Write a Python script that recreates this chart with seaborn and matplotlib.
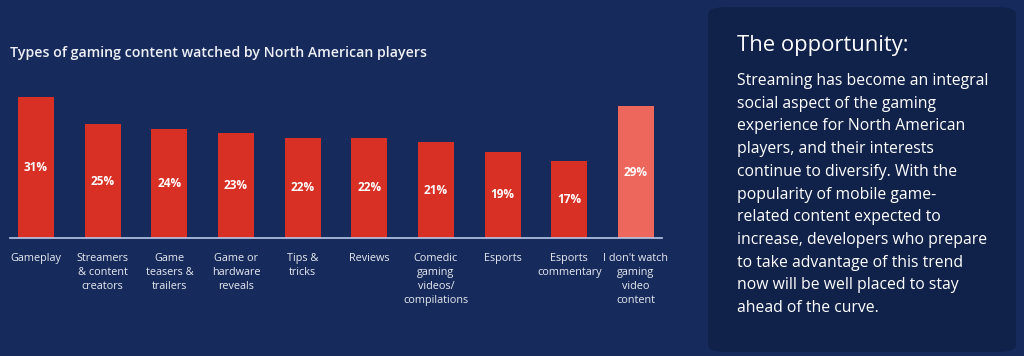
import matplotlib.pyplot as plt
import seaborn as sns
import pandas as pd
from matplotlib.patches import FancyBboxPatch

categories = ["Gameplay", "Streamers\n& content\ncreators", "Game\nteasers &\ntrailers",
              "Game or\nhardware\nreveals", "Tips &\ntricks", "Reviews",
              "Comedic\ngaming\nvideos/\ncompilations", "Esports", "Esports\ncommentary",
              "I don't watch\ngaming\nvideo\ncontent"]
shares = [31, 25, 24, 23, 22, 22, 21, 19, 17, 29]
bar_colors = ["#d93025"] * 9 + ["#ee675c"]

title = "Types of gaming content watched by North American players"
panel_title = "The opportunity:"
panel_text = ("Streaming has become an integral\nsocial aspect of the gaming\n"
              "experience for North American\nplayers, and their interests\n"
              "continue to diversify. With the\npopularity of mobile game-\n"
              "related content expected to\nincrease, developers who prepare\n"
              "to take advantage of this trend\nnow will be well placed to stay\n"
              "ahead of the curve.")

bg = "#162a5b"
sns.set_theme(style="white")
plt.rcParams['font.family'] = ['Open Sans', 'DejaVu Sans']

df = pd.DataFrame({"cat": categories, "share": shares})

fig = plt.figure(figsize=(10.24, 3.56), dpi=100, facecolor=bg)
ax = fig.add_axes([10/1024, 118/356, 652/1024, 145.6/356])
ax.set_facecolor(bg)
sns.barplot(data=df, x="cat", y="share", hue="cat", palette=bar_colors,
            legend=False, width=0.54, saturation=1, linewidth=0,
            edgecolor="none", ax=ax)
ax.set_xlim(-0.39, 9.39)
ax.set_ylim(0, 32)
for i, v in enumerate(shares):
    ax.text(i, v / 2, f"{v}%", ha="center", va="center", color="white",
            fontsize=8.5, fontweight="bold")
for s in ["top", "right", "left"]:
    ax.spines[s].set_visible(False)
ax.spines["bottom"].set_color("#b9c8e8")
ax.spines["bottom"].set_linewidth(1.2)
ax.set_yticks([])
ax.set_xlabel("")
ax.set_ylabel("")
ax.tick_params(axis="x", length=0, pad=11, colors="#e6e9f0", labelsize=7.8)
for t in ax.get_xticklabels():
    t.set_linespacing(1.35)

fig.text(10/1024, 1 - 53/356, title, color="#eef0f5", fontsize=10.2,
         fontweight="semibold", va="center", ha="left")

panel = FancyBboxPatch((708/1024, 4/356), 308/1024, 345/356,
                       boxstyle="round,pad=0,rounding_size=0.02",
                       transform=fig.transFigure, facecolor="#10214a",
                       edgecolor="none")
fig.patches.append(panel)
fig.text(737/1024, 1 - 45/356, panel_title, color="white", fontsize=15.8,
         va="center", ha="left")
fig.text(737/1024, 1 - 73/356, panel_text, color="white", fontsize=11.3,
         va="top", ha="left", linespacing=1.56)

fig.savefig("out.png", dpi=100, facecolor=bg)
